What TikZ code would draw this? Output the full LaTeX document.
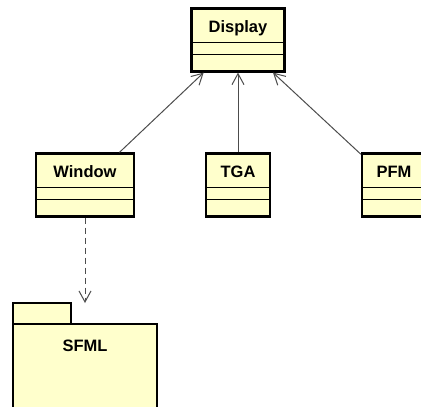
\documentclass[tikz,border=0pt]{standalone}
\usepackage{fontspec}
\newfontfamily\umlfont{Liberation Sans}
\usetikzlibrary{arrows.meta}
\definecolor{umlyellow}{RGB}{255,255,204}
\begin{document}
\begin{tikzpicture}[x=1pt, y=-1pt,
  umlclass/.style={draw, line width=2.2pt, fill=umlyellow, minimum height=63pt, inner sep=0pt},
  clsname/.style={font=\umlfont\bfseries\fontsize{16.5}{17}\selectfont, anchor=base, inner sep=0pt},
  slot/.style={line width=1.4pt},
  assoc/.style={line width=1pt, draw=black!70, -{Straight Barb[length=11pt, width=12pt]}},
  depend/.style={assoc, dash pattern=on 6pt off 4pt},
  pkgbox/.style={draw, line width=2.2pt, fill=umlyellow}]
  \path[use as bounding box] (0,0) rectangle (421,407);
  \clip (0,0) rectangle (421,407);

  % classes
  \node[umlclass, minimum width=93pt] (display) at (238,40) {};
  \node[umlclass, minimum width=98pt] (window)  at (85,185)   {};
  \node[umlclass, minimum width=64pt] (tga)     at (238,185) {};
  \node[umlclass, minimum width=64pt] (pfm)     at (394,185)  {};
  \foreach \cls/\txt in {display/Display, window/Window, tga/TGA, pfm/PFM} {
    \node[clsname] (\cls-name) at ([yshift=-25pt]\cls.north) {\txt};
    \draw[slot] ([yshift=-35pt]\cls.north west) -- ([yshift=-35pt]\cls.north east);
    \draw[slot] ([yshift=-47pt]\cls.north west) -- ([yshift=-47pt]\cls.north east);
  }

  % package
  \node[minimum width=144pt, minimum height=130pt, outer sep=0pt] (sfml) at (85,368) {};
  \draw[pkgbox] (sfml.north west) rectangle ([xshift=58pt, yshift=-21pt]sfml.north west);
  \draw[pkgbox] ([yshift=-21pt]sfml.north west) rectangle (sfml.south east);
  \node[clsname] (sfml-name) at ([yshift=-48.5pt]sfml.north) {SFML};

  % connectors
  \draw[assoc] (window) -- (display);
  \draw[assoc] (tga) -- (display);
  \draw[assoc] (pfm) -- (display);
  \draw[depend] (window) -- (sfml);
\end{tikzpicture}
\end{document}
